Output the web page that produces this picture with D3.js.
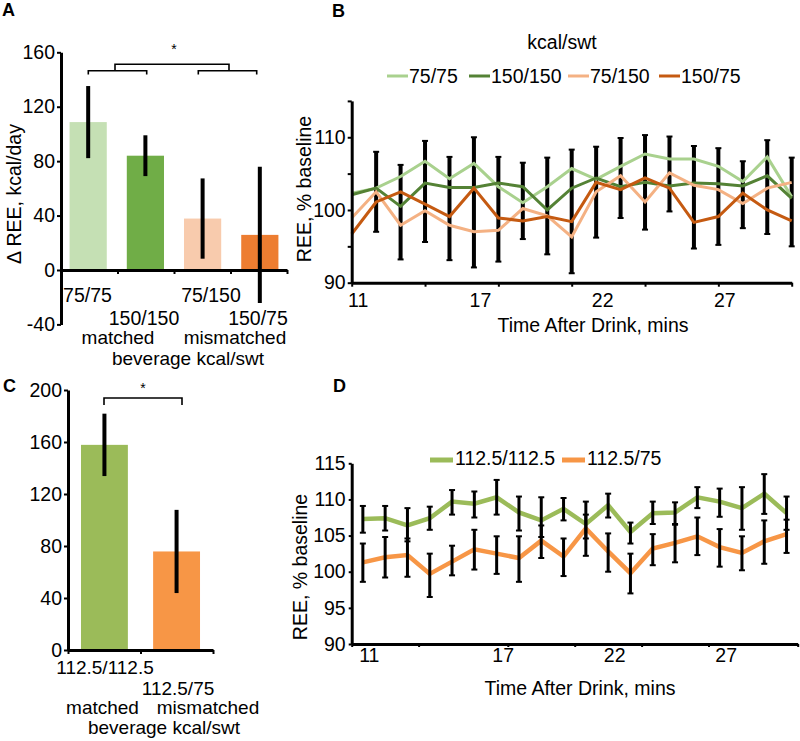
<!DOCTYPE html>
<html>
<head>
<meta charset="utf-8">
<script src="https://cdn.jsdelivr.net/npm/d3@7/dist/d3.min.js"></script>
<style>
  body { margin: 0; background: #fff; }
  svg text { font-family: "Liberation Sans", Arial, sans-serif; fill: #000; }
</style>
</head>
<body>
<svg id="chart" width="800" height="741"></svg>
<script>
// ---------- DATA ----------
// Panel A
const aCategories = ["75/75", "150/150", "75/150", "150/75"];
const aValues = [108.7, 84, 37.8, 25.8];
const aErrors = [26.5, 15, 29.5, 50];
const aColors = ["#c5e0b4", "#70ad47", "#f8cbad", "#ed7d31"];
const aTicks = [-40, 0, 40, 80, 120, 160];

// Panel B
const bSeriesNames = ["75/75", "150/150", "75/150", "150/75"];
const bColors = ["#a9d18e", "#548235", "#f4b183", "#c55a11"];
const b7575 = [102.3, 103.0, 104.6, 106.7, 104.3, 106.4, 103.2, 101.0, 103.2, 105.7, 104.2, 106.0, 107.7, 107.0, 107.0, 106.0, 103.9, 107.3, 101.8];
const b150150 = [102.1, 103.0, 100.5, 103.7, 103.1, 103.1, 103.7, 103.2, 100.0, 103.0, 104.4, 103.2, 103.8, 103.3, 103.7, 103.6, 103.3, 104.7, 101.6];
const b75150 = [98.9, 102.5, 97.9, 99.9, 97.9, 97.0, 97.2, 100.2, 99.2, 96.3, 102.5, 104.7, 101.1, 105.1, 103.4, 102.8, 100.9, 103.0, 103.8];
const b15075 = [96.7, 101.1, 102.5, 100.8, 99.1, 103.0, 98.9, 98.5, 99.1, 98.4, 103.8, 102.8, 104.4, 103.0, 98.3, 99.1, 102.3, 100.0, 98.5];
const bErrHigh = [null, 108.0, 106.2, 109.5, 107.3, 110.0, 107.3, 106.5, 107.2, 108.3, 108.7, 109.9, 110.3, 110.1, 108.8, 108.5, 106.7, 109.6, 107.2];
const bErrLow = [null, 97.0, 93.2, 95.6, 93.1, 92.1, 92.9, 96.0, 93.9, 91.3, 96.2, 98.9, 97.3, 99.8, 94.7, 95.2, 97.5, 96.7, 95.0];
const bYTicks = [90, 95, 100, 105, 110, 115];
const bXTickMarks = [0, 3, 6, 9, 12, 15, 18];
const bXLabelIdx = [0, 5, 10, 15];
const bXLabels = ["11", "17", "22", "27"];

// Panel C
const cCategories = ["112.5/112.5", "112.5/75"];
const cValues = [157.8, 75.8];
const cErrors = [24, 32];
const cColors = ["#9bbb59", "#f79646"];
const cTicks = [0, 40, 80, 120, 160, 200];

// Panel D
const dSeriesNames = ["112.5/112.5", "112.5/75"];
const dColors = ["#9bbb59", "#f79646"];
const dMatched = [107.3, 107.4, 106.4, 107.4, 109.7, 109.4, 110.3, 108.2, 107.1, 108.7, 106.6, 109.2, 105.5, 108.1, 108.2, 110.3, 109.7, 108.8, 110.8, 108.1];
const dMatchedHi = [109.1, 109.1, 108.8, 109.0, 111.3, 111.1, 112.7, 110.4, 110.3, 110.2, 109.7, 110.8, 106.8, 109.7, 109.6, 111.7, 111.5, 111.7, 113.5, 110.4];
const dMatchedLo = [105.4, 105.7, 104.2, 105.8, 107.9, 107.5, 107.9, 105.7, 104.8, 107.1, 104.6, 107.5, 103.9, 106.6, 106.6, 108.8, 107.6, 105.8, 108.0, 105.8];
const dMismatched = [101.3, 102.0, 102.3, 99.7, 101.4, 103.1, 102.5, 101.9, 104.3, 102.1, 106.0, 102.8, 99.8, 103.2, 104.0, 104.9, 103.4, 102.6, 104.2, 105.2];
const dMismatchedHi = [103.9, 104.8, 104.6, 102.5, 103.6, 105.8, 104.9, 104.9, 106.4, 104.6, 107.9, 105.3, 102.5, 105.2, 106.5, 107.5, 105.9, 104.9, 107.1, 107.2];
const dMismatchedLo = [98.6, 99.2, 99.3, 96.5, 99.5, 100.3, 99.7, 98.6, 101.9, 99.4, 102.2, 100.0, 97.0, 100.9, 101.3, 102.3, 100.7, 100.2, 101.1, 102.6];
const dYTicks = [90, 95, 100, 105, 110, 115];
const dXTickMarks = [-0.5, 2.5, 6.5, 9.5, 12.5, 15.5, 19.5];
const dXLabelIdx = [0, 6, 11, 16];
const dXLabels = ["11", "17", "22", "27"];

// ---------- DRAW ----------
const svg = d3.select("#chart");
const FS = 19.5;
const fmt = d => String(d);

function styleAxis(g, w) {
  g.select(".domain").attr("stroke", "#000").attr("stroke-width", w || 3);
  g.selectAll(".tick line").attr("stroke", "#000").attr("stroke-width", 2);
  g.selectAll(".tick text").attr("font-size", FS).attr("fill", "#000")
    .attr("font-family", '"Liberation Sans", Arial, sans-serif');
}
function text(x, y, s, opts = {}) {
  const t = svg.append("text").attr("x", x).attr("y", y).text(s)
    .attr("font-size", opts.size || FS)
    .attr("text-anchor", opts.anchor || "middle");
  if (opts.bold) t.attr("font-weight", "bold");
  if (opts.rotate) t.attr("x", 0).attr("y", 0).attr("transform", `translate(${x},${y}) rotate(-90)`);
  return t;
}

// ===== Panel A =====
{
  const y = d3.scaleLinear().domain([-40, 160]).range([324.4, 52.3]);
  const x = d3.scaleBand().domain(aCategories).range([61, 287]).paddingInner(0.35).paddingOuter(0.15);
  const g = svg.append("g");
  g.selectAll("rect").data(aCategories).join("rect")
    .attr("x", d => x(d)).attr("width", x.bandwidth())
    .attr("y", (d, i) => y(aValues[i])).attr("height", (d, i) => y(0) - y(aValues[i]))
    .attr("fill", (d, i) => aColors[i]);
  const ya = svg.append("g").attr("transform", "translate(61,0)")
    .call(d3.axisLeft(y).tickValues(aTicks).tickSize(4).tickSizeOuter(0).tickPadding(2).tickFormat(fmt));
  styleAxis(ya);
  const xl = d3.scaleLinear().domain([0, 4]).range([61, 287]);
  const xa = svg.append("g").attr("transform", `translate(0,${y(0)})`)
    .call(d3.axisBottom(xl).tickValues([0, 1, 2, 3, 4]).tickSize(4).tickSizeOuter(0).tickFormat(""));
  styleAxis(xa);
  g.selectAll("line.err").data(aCategories).join("line")
    .attr("x1", d => x(d) + x.bandwidth() / 2).attr("x2", d => x(d) + x.bandwidth() / 2)
    .attr("y1", (d, i) => y(aValues[i] + aErrors[i])).attr("y2", (d, i) => y(aValues[i] - aErrors[i]))
    .attr("stroke", "#000").attr("stroke-width", 4);
  text(87.5, 302, "75/75");
  text(144, 325, "150/150");
  text(211, 302, "75/150");
  text(258, 325, "150/75");
  text(118, 344, "matched", { size: 19 });
  text(235, 344, "mismatched", { size: 19 });
  text(188, 365, "beverage kcal/swt", { size: 19 });
  text(21, 194, "\u0394 REE, kcal/day", { rotate: true });
  const br = svg.append("g").attr("fill", "none").attr("stroke", "#000").attr("stroke-width", 1.6);
  br.append("path").attr("d", "M88.3,74.5V70.7H146.7V74.5");
  br.append("path").attr("d", "M198.3,74.5V70.7H256.7V74.5");
  br.append("path").attr("d", "M115,70.7V64.3H229V70.7");
  text(174, 54, "*", { size: 14 });
  text(2, 16, "A", { anchor: "start", bold: true, size: 18 });
}

// ===== Panel B =====
{
  const x = d3.scaleLinear().domain([0, 18]).range([351.7, 791.7]);
  const y = d3.scaleLinear().domain([90, 115]).range([282.7, 100.9]);
  const idx = d3.range(b7575.length);
  const eb = svg.append("g");
  idx.filter(i => bErrHigh[i] != null).forEach(i => {
    const cx = x(i);
    eb.append("line").attr("x1", cx).attr("x2", cx).attr("y1", y(bErrHigh[i])).attr("y2", y(bErrLow[i]))
      .attr("stroke", "#000").attr("stroke-width", 4);
    [bErrHigh[i], bErrLow[i]].forEach(v => eb.append("line").attr("x1", cx - 3).attr("x2", cx + 3)
      .attr("y1", y(v)).attr("y2", y(v)).attr("stroke", "#000").attr("stroke-width", 2));
  });
  const series = [b7575, b150150, b75150, b15075];
  const line = d3.line().x((d, i) => x(i)).y(d => y(d));
  series.forEach((s, k) => {
    svg.append("path").datum(s).attr("d", line).attr("fill", "none")
      .attr("stroke", bColors[k]).attr("stroke-width", 3).attr("stroke-linejoin", "miter");
  });
  const ya = svg.append("g").attr("transform", "translate(351.7,0)")
    .call(d3.axisLeft(y).tickValues(bYTicks).tickSize(4).tickSizeOuter(0).tickPadding(2)
      .tickFormat(d => d % 10 === 0 ? d : ""));
  styleAxis(ya);
  const xa = svg.append("g").attr("transform", `translate(0,${y(90)})`)
    .call(d3.axisBottom(x).tickValues(bXTickMarks).tickSize(4).tickSizeOuter(0).tickFormat(""));
  styleAxis(xa);
  const xl = svg.append("g").attr("transform", `translate(0,${y(90)})`)
    .call(d3.axisBottom(x).tickValues(bXLabelIdx).tickSize(0).tickPadding(10)
      .tickFormat((d, i) => bXLabels[i]));
  xl.select(".domain").remove();
  styleAxis(xl);
  xl.selectAll(".tick text").attr("dx", 6);
  text(593, 332, "Time After Drink, mins");
  text(311, 189, "REE, % baseline", { rotate: true });
  text(562, 49, "kcal/swt");
  const legX = [387, 469, 568, 659];
  bSeriesNames.forEach((n, k) => {
    svg.append("line").attr("x1", legX[k]).attr("x2", legX[k] + 21).attr("y1", 76).attr("y2", 76)
      .attr("stroke", bColors[k]).attr("stroke-width", 3);
    text(legX[k] + 22, 82.5, n, { anchor: "start" });
  });
  text(332, 17, "B", { anchor: "start", bold: true, size: 18 });
}

// ===== Panel C =====
{
  const y = d3.scaleLinear().domain([0, 200]).range([650, 390]);
  const x = d3.scaleBand().domain(cCategories).range([68, 213]).paddingInner(0.35).paddingOuter(0.18);
  svg.append("g").selectAll("rect").data(cCategories).join("rect")
    .attr("x", d => x(d)).attr("width", x.bandwidth())
    .attr("y", (d, i) => y(cValues[i])).attr("height", (d, i) => y(0) - y(cValues[i]))
    .attr("fill", (d, i) => cColors[i]);
  const ya = svg.append("g").attr("transform", "translate(68,0)")
    .call(d3.axisLeft(y).tickValues(cTicks).tickSize(4).tickSizeOuter(0).tickPadding(2).tickFormat(fmt));
  styleAxis(ya);
  const xl = d3.scaleLinear().domain([0, 2]).range([68, 213]);
  const xa = svg.append("g").attr("transform", `translate(0,${y(0)})`)
    .call(d3.axisBottom(xl).tickValues([0, 1, 2]).tickSize(4).tickSizeOuter(0).tickFormat(""));
  styleAxis(xa);
  svg.append("g").selectAll("line").data(cCategories).join("line")
    .attr("x1", d => x(d) + x.bandwidth() / 2).attr("x2", d => x(d) + x.bandwidth() / 2)
    .attr("y1", (d, i) => y(cValues[i] + cErrors[i])).attr("y2", (d, i) => y(cValues[i] - cErrors[i]))
    .attr("stroke", "#000").attr("stroke-width", 4);
  text(105, 674, "112.5/112.5", { size: 19 });
  text(178, 695, "112.5/75", { size: 19 });
  text(102.5, 714, "matched", { size: 19 });
  text(208, 714, "mismatched", { size: 19 });
  text(164, 734, "beverage kcal/swt", { size: 19 });
  const br = svg.append("g").attr("fill", "none").attr("stroke", "#000").attr("stroke-width", 1.6);
  br.append("path").attr("d", "M104,405V398H182V405");
  text(143, 393, "*", { size: 14 });
  text(3, 392, "C", { anchor: "start", bold: true, size: 18 });
}

// ===== Panel D =====
{
  const x = d3.scaleLinear().domain([-0.5, 19.5]).range([351.7, 797.7]);
  const y = d3.scaleLinear().domain([90, 115]).range([644, 463.3]);
  const line = d3.line().x((d, i) => x(i)).y(d => y(d));
  const series = [dMatched, dMismatched];
  const his = [dMatchedHi, dMismatchedHi];
  const los = [dMatchedLo, dMismatchedLo];
  series.forEach((s, k) => {
    svg.append("path").datum(s).attr("d", line).attr("fill", "none")
      .attr("stroke", dColors[k]).attr("stroke-width", 4.5);
  });
  const eb = svg.append("g");
  series.forEach((s, k) => {
    s.forEach((v, i) => {
      const cx = x(i);
      eb.append("line").attr("x1", cx).attr("x2", cx).attr("y1", y(his[k][i])).attr("y2", y(los[k][i]))
        .attr("stroke", "#000").attr("stroke-width", 3);
      [his[k][i], los[k][i]].forEach(e => eb.append("line").attr("x1", cx - 3).attr("x2", cx + 3)
        .attr("y1", y(e)).attr("y2", y(e)).attr("stroke", "#000").attr("stroke-width", 2));
    });
  });
  const ya = svg.append("g").attr("transform", "translate(351.7,0)")
    .call(d3.axisLeft(y).tickValues(dYTicks).tickSize(3).tickSizeOuter(0).tickPadding(3));
  styleAxis(ya);
  const xa = svg.append("g").attr("transform", `translate(0,${y(90)})`)
    .call(d3.axisBottom(x).tickValues(dXTickMarks).tickSize(3).tickSizeOuter(0).tickFormat(""));
  styleAxis(xa);
  const xl = svg.append("g").attr("transform", `translate(0,${y(90)})`)
    .call(d3.axisBottom(x).tickValues(dXLabelIdx).tickSize(0).tickPadding(4)
      .tickFormat((d, i) => dXLabels[i]));
  xl.select(".domain").remove();
  styleAxis(xl);
  xl.selectAll(".tick text").attr("dx", 6);
  text(580, 695, "Time After Drink, mins");
  text(307, 567, "REE, % baseline", { rotate: true });
  const legX = [430, 562];
  dSeriesNames.forEach((n, k) => {
    svg.append("line").attr("x1", legX[k]).attr("x2", legX[k] + 23).attr("y1", 460).attr("y2", 460)
      .attr("stroke", dColors[k]).attr("stroke-width", 5);
    text(legX[k] + 25, 465, n, { anchor: "start" });
  });
  text(333, 392, "D", { anchor: "start", bold: true, size: 18 });
}
</script>
</body>
</html>
